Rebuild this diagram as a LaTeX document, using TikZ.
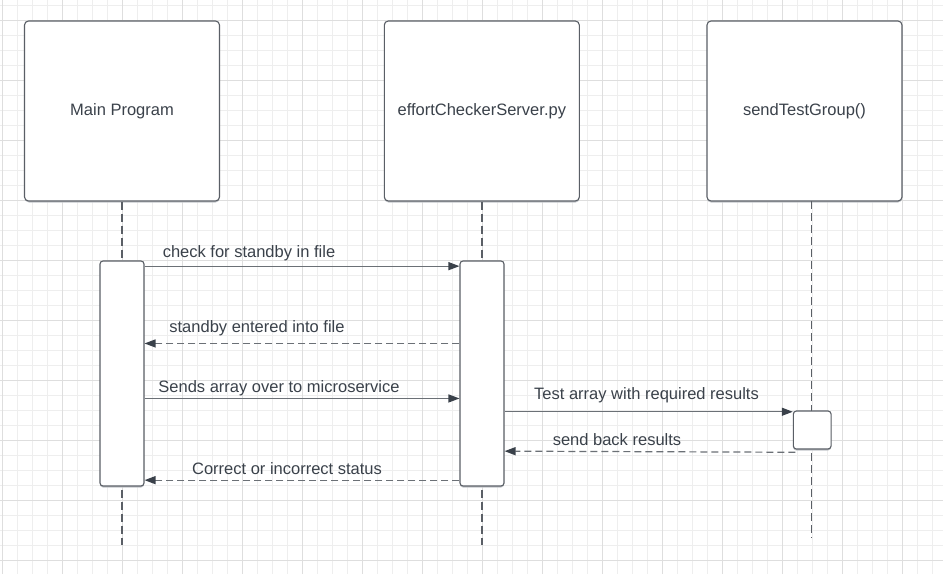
\documentclass[tikz,border=0pt]{standalone}
\usepackage{fontspec}
\setmainfont{Liberation Sans}
\usetikzlibrary{arrows.meta}
\definecolor{gridminor}{HTML}{EEEEEE}
\definecolor{gridmajor}{HTML}{DEDEDE}
\definecolor{txt}{HTML}{3A414A}
\definecolor{edge}{HTML}{5A5F66}
\definecolor{shadowc}{HTML}{C4C7CB}
\definecolor{linec}{HTML}{6B7076}
\tikzset{
  actor/.style={draw=edge, line width=1.1pt, fill=white, rounded corners=4pt,
    minimum width=195pt, minimum height=180pt, inner sep=0pt,
    text=txt, font=\fontsize{16.5}{19}\selectfont},
  actbox/.style={draw=edge, line width=1.1pt, fill=white, rounded corners=3pt, inner sep=0pt},
  shadowbox/.style={fill=shadowc, rounded corners=4pt},
  lifeline/.style={draw=edge, line width=1.1pt, dash pattern=on 8pt off 4pt},
  msg/.style={draw=linec, line width=1.2pt, -{Triangle[length=11pt,width=8pt,fill=txt,color=txt]}},
  reply/.style={msg, dash pattern=on 7pt off 4pt},
  lbl/.style={anchor=base, inner sep=0pt, text=txt, font=\fontsize{16.5}{19}\selectfont}
}
\begin{document}
\begin{tikzpicture}[x=1pt, y=-1pt]
\useasboundingbox (0,0) rectangle (943,574);
\fill[white] (0,0) rectangle (943,574);
% grid
\foreach \k in {0,...,62} {\draw[gridminor, line width=0.8pt] (2.7+15*\k,0) -- (2.7+15*\k,574);}
\foreach \k in {0,...,38} {\draw[gridminor, line width=0.8pt] (0,5.7+15*\k) -- (943,5.7+15*\k);}
\foreach \k in {0,...,15} {\draw[gridmajor, line width=0.8pt] (2.7+60*\k,0) -- (2.7+60*\k,574);}
\foreach \k in {0,...,9} {\draw[gridmajor, line width=0.8pt] (0,20.7+60*\k) -- (943,20.7+60*\k);}

% actor shadows
\fill[shadowbox] (25,23) rectangle (219.5,202.5);
\fill[shadowbox] (384.5,23) rectangle (579.5,202.5);
\fill[shadowbox] (707,23) rectangle (902,202.5);

% actors
\node[actor] (main) at (122,111) {Main Program};
\node[actor] (server) at (481.8,111) {effortCheckerServer.py};
\node[actor] (group) at (804.5,111) {sendTestGroup()};

% lifeline ends
\coordinate (mainend) at (122,545);
\coordinate (serverend) at (482,545);
\coordinate (grouptop) at (811.7,201);
\coordinate (groupend) at (811.7,538);

\draw[lifeline] (main.south) -- (mainend);
\draw[lifeline] ([xshift=0.2pt]server.south) -- (serverend);
\draw[lifeline] (grouptop) -- (groupend);

% activation shadows
\fill[shadowc, rounded corners=3pt] (100,263) rectangle (144,487.5);
\fill[shadowc, rounded corners=3pt] (460,263) rectangle (504,487.5);
\fill[shadowc, rounded corners=3pt] (793.3,413) rectangle (831,450.5);

% activation boxes
\node[actbox, minimum width=44pt, minimum height=225pt] (act1) at (122,373.5) {};
\node[actbox, minimum width=44pt, minimum height=225pt] (act2) at (482,373.5) {};
\node[actbox, minimum width=37.7pt, minimum height=38pt] (act3) at (812.2,430) {};

% messages
\draw[msg] ([yshift=-5.7pt]act1.north east) -- ([yshift=-5.7pt]act2.north west);
\node[lbl] (l1) at (249,257.3) {check for standby in file};

\draw[reply] ([yshift=-83pt]act2.north west) -- ([yshift=-83pt]act1.north east);
\node[lbl] (l2) at (257,332) {standby entered into file};

\draw[msg] ([yshift=-138pt]act1.north east) -- ([yshift=-138pt]act2.north west);
\node[lbl] (l3) at (279,392) {Sends array over to microservice};

\draw[msg] ([yshift=-151.3pt]act2.north east) -- ([yshift=-1.3pt]act3.north west);
\node[lbl] (l5) at (646.5,399.3) {Test array with required results};

\draw[reply] ([xshift=2.5pt,yshift=-2.7pt]act3.south west) -- ([yshift=-190.7pt]act2.north east);
\node[lbl] (l6) at (617,445) {send back results};

\draw[reply] ([yshift=-219.7pt]act2.north west) -- ([yshift=-219.7pt]act1.north east);
\node[lbl] (l4) at (287,474.7) {Correct or incorrect status};
\end{tikzpicture}
\end{document}
